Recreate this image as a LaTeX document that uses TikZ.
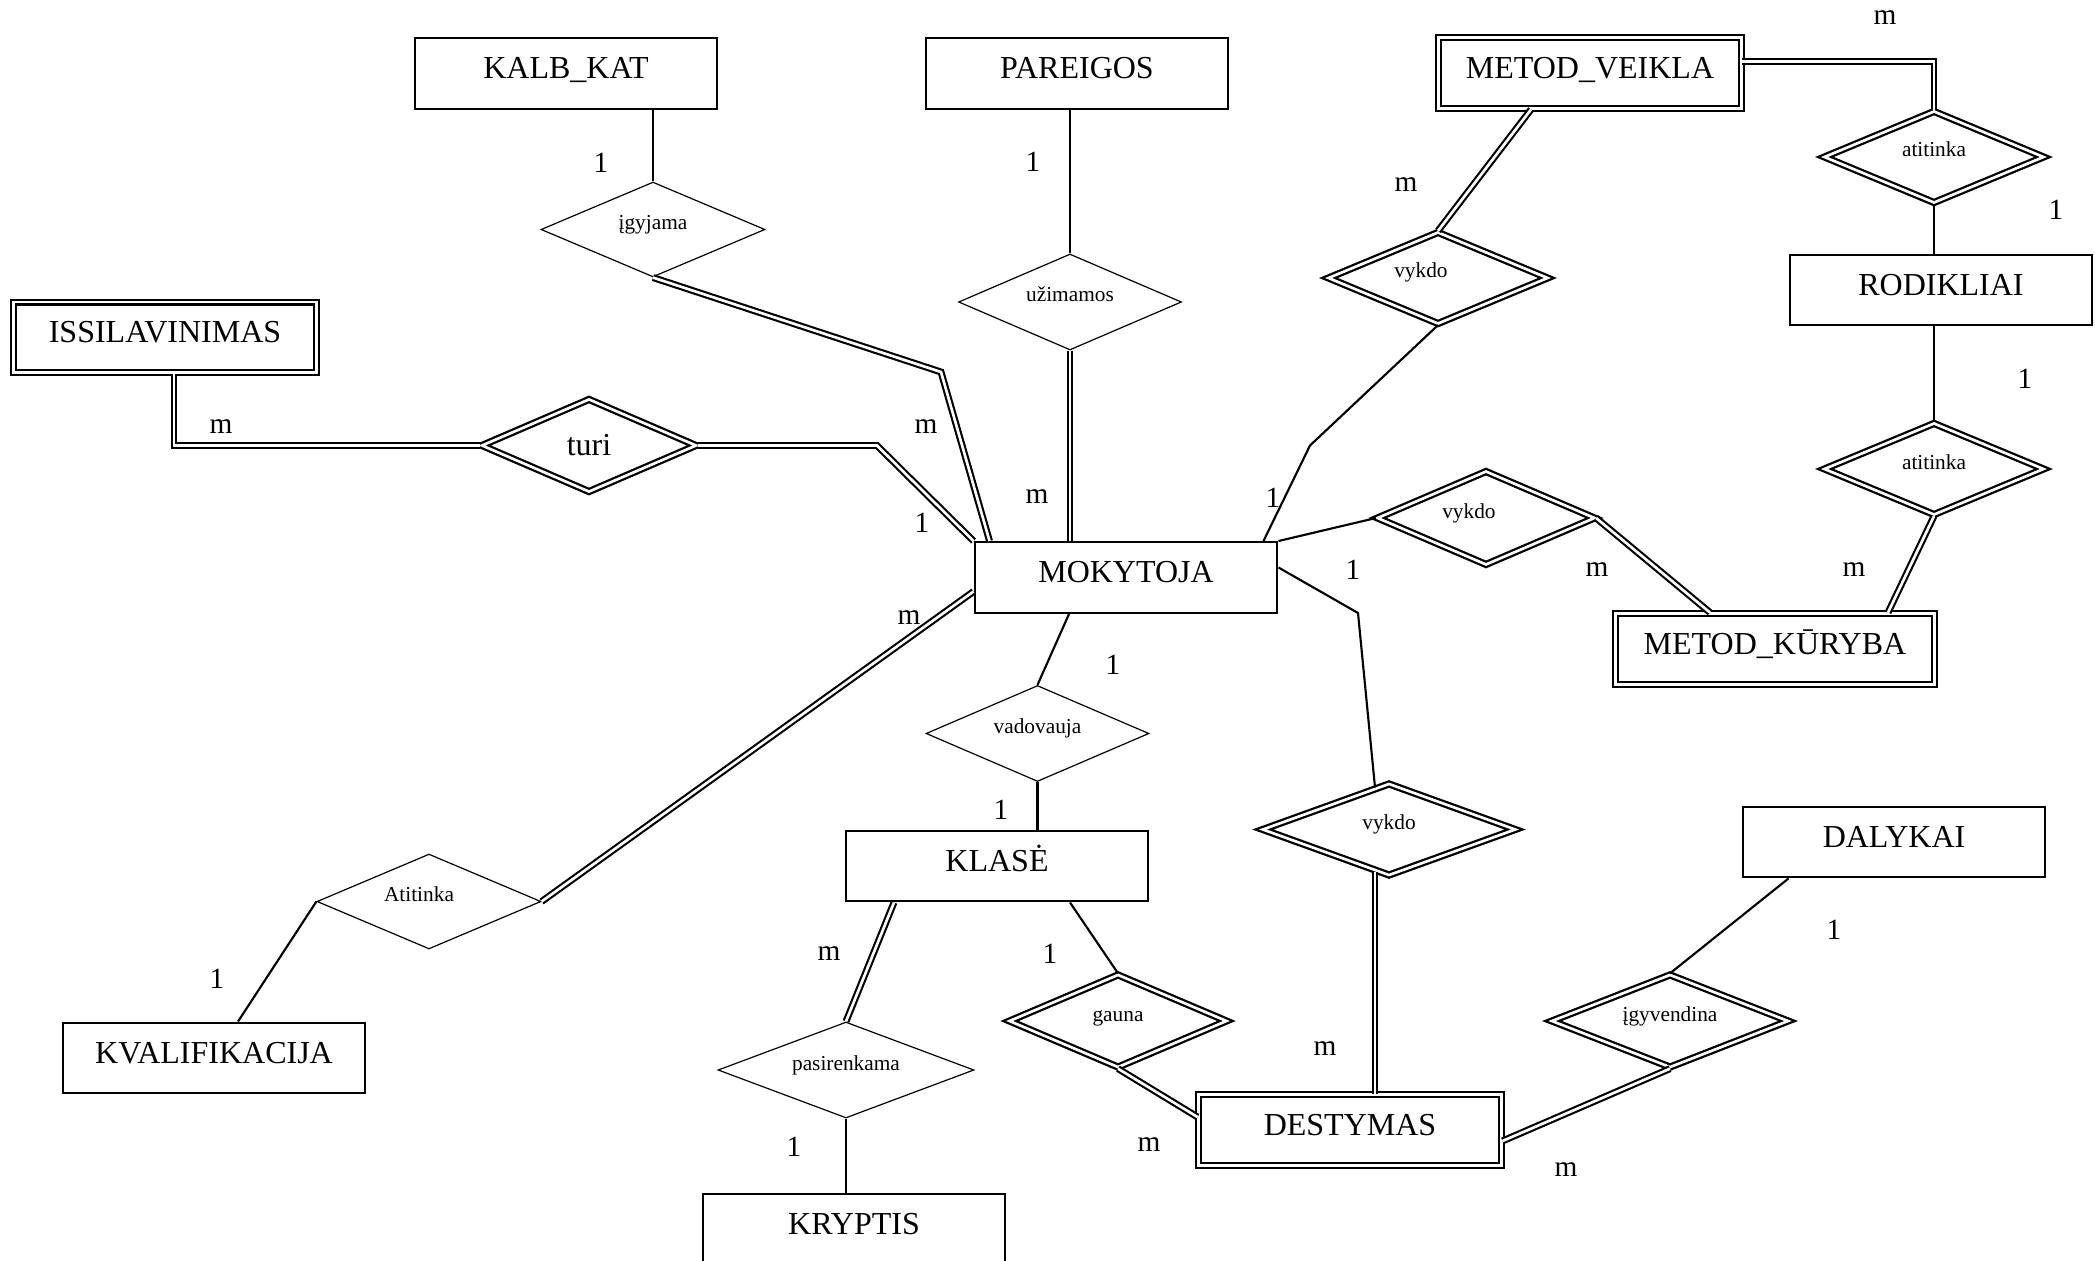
\documentclass[tikz,border=0pt]{standalone}
\usepackage{fontspec}
\setmainfont{Liberation Serif}
\usetikzlibrary{shapes.geometric,calc}
\begin{document}
\begin{tikzpicture}[x=0.375bp,y=-0.375bp,
  ent/.style={draw, rectangle, line width=0.85bp, minimum width=113.5bp,
    minimum height=26.5bp, inner sep=0pt, font=\fontsize{12bp}{14bp}\selectfont,
    text height=7.9bp, text depth=3.8bp},
  weak/.style={ent, double, double distance=1bp},
  dshape/.style={draw, diamond, inner sep=0pt, aspect=2.3},
  small/.style={font=\fontsize{8bp}{9bp}\selectfont, text height=5.5bp, text depth=5.5bp},
  rel/.style={dshape, small, line width=0.45bp},
  idrel/.style={dshape, small, line width=0.85bp, double, double distance=1bp},
  link/.style={line width=0.8bp},
  dlink/.style={line width=0.8bp, double, double distance=1bp},
  card/.style={inner sep=0pt, font=\fontsize{11bp}{13bp}\selectfont},
]
\useasboundingbox (0,0) rectangle (2095,1261);
\clip (0,0) rectangle (2095,1261);

% entities
\node[ent]  (kalb) at (566,73.5)  {KALB\_KAT};
\node[ent]  (par)  at (1077,73.5) {PAREIGOS};
\node[weak] (mv)   at (1590,73)   {METOD\_VEIKLA};
\node[weak] (iss)  at (165,337.5) {ISSILAVINIMAS};
\node[ent]  (rod)  at (1941,290)  {RODIKLIAI};
\node[ent]  (mok)  at (1126,577.5) {MOKYTOJA};
\node[weak, minimum width=119.6bp] (mk) at (1775,649) {METOD\_KŪRYBA};
\node[ent]  (kla)  at (997,866)   {KLASĖ};
\node[ent]  (dal)  at (1894,842)  {DALYKAI};
\node[ent]  (kva)  at (214,1058)  {KVALIFIKACIJA};
\node[weak] (des)  at (1350,1130) {DESTYMAS};
\node[ent]  (kry)  at (854,1229)  {KRYPTIS};

% relationships
\node[rel, minimum width=84bp, minimum height=35.6bp] (igy) at (653,229.5) {įgyjama};
\node[rel, minimum width=83.6bp, minimum height=36bp] (uzi) at (1070,302) {užimamos};
\node[dshape, line width=0.85bp, double, double distance=1bp,
      minimum width=80.6bp, minimum height=34.9bp,
      font=\fontsize{12bp}{14bp}\selectfont] (turi) at (589,445.5) {turi};
\node[idrel, minimum width=82.5bp, minimum height=34.5bp] (vyk1) at (1438,278) {\kern-12.8bp vykdo};
\node[idrel, minimum width=82.5bp, minimum height=34.5bp] (at1) at (1934,157) {atitinka};
\node[idrel, minimum width=82.5bp, minimum height=34.5bp] (at2) at (1934,469) {atitinka};
\node[idrel, minimum width=81.7bp, minimum height=35.2bp] (vyk2) at (1486,518) {\kern-12.8bp vykdo};
\node[rel, minimum width=83.6bp, minimum height=36bp] (vad) at (1037.5,733.5) {vadovauja};
\node[rel, minimum width=84bp, minimum height=35.6bp] (atk) at (429,901.5) {\kern-7.5bp Atitinka};
\node[idrel, minimum width=95bp, minimum height=34.5bp] (vyk3) at (1389,829.5) {vykdo};
\node[rel, minimum width=96bp, minimum height=36bp] (pas) at (846,1070) {pasirenkama};
\node[idrel, minimum width=81.7bp, minimum height=34.9bp] (gau) at (1118,1021) {gauna};
\node[idrel, minimum width=88.9bp, minimum height=34.9bp] (ivg) at (1670,1021) {įgyvendina};

% bend points
\coordinate (b1) at (174,445.5);
\coordinate (b2) at (877,445.5);
\coordinate (b3) at (941,372);
\coordinate (b4) at (1310,445.5);
\coordinate (b5) at (1358,613);

% connectors
\draw[link]  (igy.north |- kalb.south) -- (igy.north);
\draw[dlink] (igy.south) -- (b3) -- ($(mok.north west)+(16,0)$);
\draw[dlink] (b1 |- iss.south) -- (b1) -- (turi.west);
\draw[dlink] (turi.east) -- (b2) -- (mok.north west);
\draw[link]  (uzi.north |- par.south) -- (uzi.north);
\draw[dlink] (uzi.south) -- (uzi.south |- mok.north);
\draw[dlink] ($(mv.south)+(-59,0)$) -- (vyk1.north);
\draw[link]  (vyk1.south) -- (b4) -- ($(mok.north east)+(-15,0)$);
\draw[link]  (mok.north east) -- (vyk2.west);
\draw[dlink] (vyk2.east) -- ($(mk.north)+(-65,0)$);
\draw[dlink] ($(mv.east)+(0,-11.3)$) -| (at1.north);
\draw[link]  (at1.south) -- (at1.south |- rod.north);
\draw[link]  (at2.north |- rod.south) -- (at2.north);
\draw[dlink] (at2.south) -- ($(mk.north)+(113,0)$);
\draw[link]  ($(mok.east)+(0,-10)$) -- (b5) -- ($(vyk3.north)+(-14,5)$);
\draw[dlink] ($(vyk3.south)+(-14,-5)$) -- ($(des.north)+(25,0)$);
\draw[link]  ($(mok.south)+(-57,0)$) -- (vad.north);
\draw[link]  (vad.south) -- (vad.south |- kla.north);
\draw[dlink] ($(kla.south)+(-103,0)$) -- (pas.north);
\draw[link]  (pas.south) -- (pas.south |- kry.north);
\draw[link]  ($(kla.south)+(73,0)$) -- (gau.north);
\draw[dlink] (gau.south) -- ($(des.west)+(0,-13)$);
\draw[link]  ($(dal.south)+(-105.5,0)$) -- (ivg.north);
\draw[dlink] (ivg.south) -- ($(des.east)+(0,11)$);
\draw[dlink] ($(mok.west)+(0,14)$) -- (atk.east);
\draw[link]  (atk.west) -- ($(kva.north)+(24,0)$);

% cardinalities
\node[card] (c1)  at (601,162.5) {1};
\node[card] (c2)  at (1033,162)  {1};
\node[card] (c3)  at (221,426.6) {m};
\node[card] (c4)  at (926,426.6) {m};
\node[card] (c5)  at (922,522.5) {1};
\node[card] (c6)  at (1037,497)  {m};
\node[card] (c7)  at (909,618)   {m};
\node[card] (c8)  at (1885,18)   {m};
\node[card] (c9)  at (1406,185)  {m};
\node[card] (c10) at (2056,210)  {1};
\node[card] (c11) at (2025,378.6) {1};
\node[card] (c12) at (1273,498)  {1};
\node[card] (c13) at (1353,570)  {1};
\node[card] (c14) at (1597,570)  {m};
\node[card] (c15) at (1854,570)  {m};
\node[card] (c16) at (1113,665)  {1};
\node[card] (c17) at (1001,810)  {1};
\node[card] (c18) at (829,954)   {m};
\node[card] (c19) at (1050,954)  {1};
\node[card] (c20) at (217,979)   {1};
\node[card] (c21) at (794,1147)  {1};
\node[card] (c22) at (1325,1049) {m};
\node[card] (c23) at (1834,930)  {1};
\node[card] (c24) at (1149,1145) {m};
\node[card] (c25) at (1566,1170) {m};
\end{tikzpicture}
\end{document}
